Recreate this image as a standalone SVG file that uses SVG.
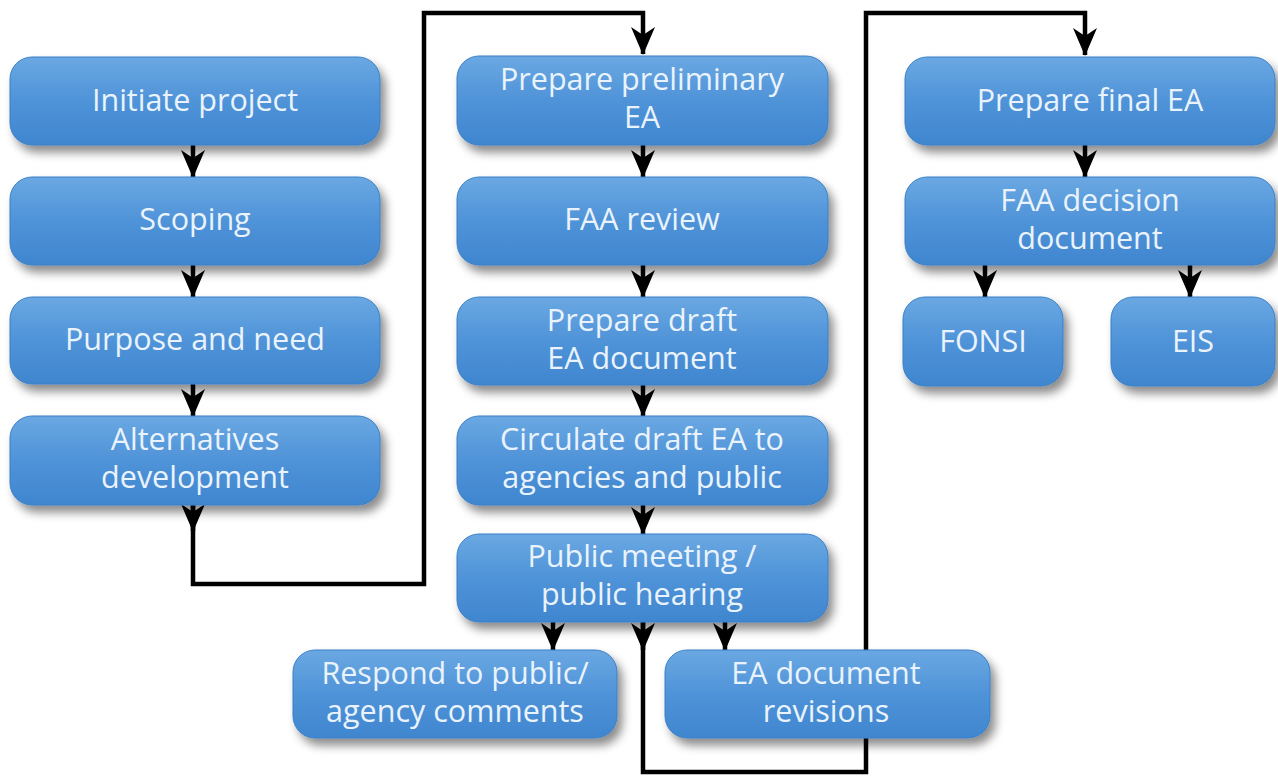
<svg xmlns="http://www.w3.org/2000/svg" width="1278" height="779" viewBox="0 0 1278 779">
<defs>
<linearGradient id="g" x1="0" y1="0" x2="0" y2="1">
<stop offset="0" stop-color="#6aa8e2"/>
<stop offset="0.5" stop-color="#4f93d8"/>
<stop offset="1" stop-color="#3f86cf"/>
</linearGradient>
<filter id="sh" x="-10%" y="-20%" width="125%" height="150%">
<feDropShadow dx="5" dy="7" stdDeviation="5" flood-color="#000" flood-opacity="0.45"/>
</filter>
<marker id="ah" viewBox="0 0 28 24" refX="27" refY="12" markerWidth="28" markerHeight="24" markerUnits="userSpaceOnUse" orient="auto">
<path d="M0,0 L28,12 L0,24 L8,12 Z" fill="#000"/>
</marker>
</defs>
<style>
.box{fill:url(#g);filter:url(#sh);stroke:#3a7fc6;stroke-width:1}
.t{font-family:"Open Sans","Liberation Sans",sans-serif;font-size:30.5px;fill:#eaf3fc;text-anchor:middle}
.a{fill:none;stroke:#000;stroke-width:4.5;marker-end:url(#ah)}
</style>
<rect width="1278" height="779" fill="#fff"/>
<g id="connectors">
<path class="a" d="M193,145 V177"/>
<path class="a" d="M193,265 V297"/>
<path class="a" d="M193,384 V416"/>
<path class="a" d="M193,505 V531"/>
<path class="a" d="M193,505 V584 H424 V13 H643 V54"/>
<path class="a" d="M643,145 V177"/>
<path class="a" d="M643,265 V297"/>
<path class="a" d="M643,385 V416"/>
<path class="a" d="M643,505 V534"/>
<path class="a" d="M553,622 V650"/>
<path class="a" d="M725,622 V650"/>
<path class="a" d="M643,622 V650"/>
<path class="a" d="M643,622 V772 H866 V13 H1085 V55"/>
<path class="a" d="M1085,145 V177"/>
<path class="a" d="M985,265 V297"/>
<path class="a" d="M1190,265 V297"/>
</g>
<g id="n1"><rect class="box" x="10" y="57" width="370" height="88" rx="22"/><text class="t" x="195" y="111">Initiate project</text></g>
<g id="n2"><rect class="box" x="10" y="177" width="370" height="88" rx="22"/><text class="t" x="195" y="230">Scoping</text></g>
<g id="n3"><rect class="box" x="10" y="297" width="370" height="87" rx="22"/><text class="t" x="195" y="350">Purpose and need</text></g>
<g id="n4"><rect class="box" x="10" y="416" width="370" height="89" rx="22"/><text class="t" x="195" y="450">Alternatives</text><text class="t" x="195" y="488">development</text></g>
<g id="n5"><rect class="box" x="457" y="56" width="371" height="89" rx="22"/><text class="t" x="642" y="90">Prepare preliminary</text><text class="t" x="642" y="128">EA</text></g>
<g id="n6"><rect class="box" x="457" y="177" width="371" height="88" rx="22"/><text class="t" x="642" y="230">FAA review</text></g>
<g id="n7"><rect class="box" x="457" y="297" width="371" height="88" rx="22"/><text class="t" x="642" y="331">Prepare draft</text><text class="t" x="642" y="369">EA document</text></g>
<g id="n8"><rect class="box" x="457" y="416" width="371" height="89" rx="22"/><text class="t" x="642" y="450">Circulate draft EA to</text><text class="t" x="642" y="488">agencies and public</text></g>
<g id="n9"><rect class="box" x="457" y="534" width="371" height="88" rx="22"/><text class="t" x="642" y="567">Public meeting /</text><text class="t" x="642" y="605">public hearing</text></g>
<g id="n10"><rect class="box" x="293" y="650" width="324" height="88" rx="22"/><text class="t" x="455" y="684">Respond to public/</text><text class="t" x="455" y="722">agency comments</text></g>
<g id="n11"><rect class="box" x="665" y="650" width="325" height="88" rx="22"/><text class="t" x="826" y="684">EA document</text><text class="t" x="826" y="722">revisions</text></g>
<g id="n12"><rect class="box" x="905" y="57" width="370" height="88" rx="22"/><text class="t" x="1090" y="111">Prepare final EA</text></g>
<g id="n13"><rect class="box" x="905" y="177" width="370" height="88" rx="22"/><text class="t" x="1090" y="211">FAA decision</text><text class="t" x="1090" y="249">document</text></g>
<g id="n14"><rect class="box" x="903" y="297" width="160" height="89" rx="22"/><text class="t" x="983" y="352">FONSI</text></g>
<g id="n15"><rect class="box" x="1111" y="297" width="164" height="89" rx="22"/><text class="t" x="1193" y="352">EIS</text></g>
</svg>
